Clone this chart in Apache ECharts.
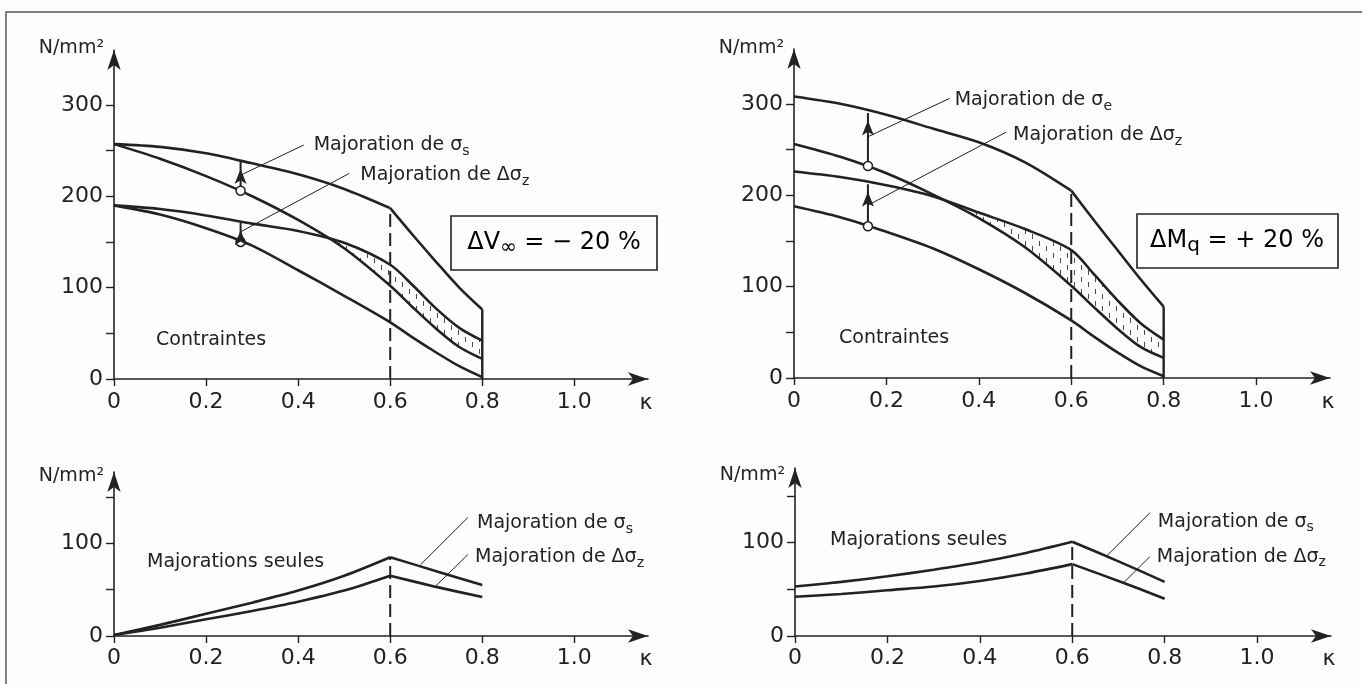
<!DOCTYPE html>
<html><head><meta charset="utf-8">
<script src="https://cdn.jsdelivr.net/npm/echarts@6/dist/echarts.min.js"></script>
<style>html,body{margin:0;padding:0;background:#fdfdfb}#c{width:1362px;height:684px}</style>
</head><body><div id="c"></div>
<script>
// ---------------- data ----------------
const xTicks = [0, 0.2, 0.4, 0.6, 0.8, 1.0];
const xTickLabels = ['0', '0.2', '0.4', '0.6', '0.8', '1.0'];
const yTicksTop = [0, 50, 100, 150, 200, 250, 300];
const yLabelsTop = [0, 100, 200, 300];
const yTicksBottom = [0, 50, 100, 150];
const yLabelsBottom = [0, 100];

const kappa = [0, 0.1, 0.2, 0.3, 0.4, 0.5, 0.6, 0.65, 0.7, 0.75, 0.8];
const kappaToPeak = [0, 0.1, 0.2, 0.3, 0.4, 0.5, 0.6];
const kappaAfterPeak = [0.6, 0.65, 0.7, 0.75, 0.8];
const kappaAfterPeakBottom = [0.6, 0.7, 0.8];
const kappaSection = 0.6;
const kappaEnd = 0.8;

// Top-left: ΔV∞ = −20 %
const vSigmaSMajToPeak = [257, 254, 247, 236, 224, 208, 187];
const vSigmaSMajAfterPeak = [187, 157, 128, 100, 76];
const vSigmaS = [257, 241, 222, 200, 174, 143, 102, 78, 55, 35, 22];
const vDSigmaZMaj = [190, 186, 179, 170, 162, 149, 125, 102, 77, 56, 42];
const vDSigmaZ = [190, 180, 165, 146, 119, 91, 62, 45, 29, 14, 2];
const vArrowKappa = 0.275;
const vArrowFrom = [206, 150];
const vArrowTo = [238, 171];

// Top-right: ΔMq = +20 %
const mSigmaEMajToPeak = [308, 300, 288, 273, 258, 236, 205];
const mSigmaEMajAfterPeak = [205, 172, 140, 108, 78];
const mSigmaE = [256, 242, 224, 201, 175, 143, 101, 77, 54, 34, 22];
const mDSigmaZMaj = [226, 220, 211, 199, 181, 163, 140, 113, 85, 60, 42];
const mDSigmaZ = [188, 176, 160, 142, 119, 93, 63, 45, 28, 13, 2];
const mArrowKappa = 0.16;
const mArrowFrom = [232, 166];
const mArrowTo = [290, 212];

// Bottom-left: majorations seules (ΔV∞)
const vMajSigmaSToPeak = [1, 12, 24, 36, 49, 65, 85];
const vMajSigmaSAfterPeak = [85, 70, 55];
const vMajDSigmaZToPeak = [1, 9, 18, 27, 37, 49, 65];
const vMajDSigmaZAfterPeak = [65, 53, 42];

// Bottom-right: majorations seules (ΔMq)
const mMajSigmaSToPeak = [53, 58, 64, 71, 79, 89, 101];
const mMajSigmaSAfterPeak = [101, 80, 58];
const mMajDSigmaZToPeak = [42, 45, 49, 53, 59, 67, 77];
const mMajDSigmaZAfterPeak = [77, 59, 40];

// annotation anchors (data coordinates)
const vLeaderSigmaS = [[0.275, 223], [0.412, 256]];
const vLeaderDSigmaZ = [[0.275, 161], [0.511, 225]];
const mLeaderSigmaE = [[0.16, 264], [0.337, 306]];
const mLeaderDSigmaZ = [[0.16, 189], [0.459, 269]];
const vLeaderMajSigmaS = [[0.666, 77], [0.769, 128]];
const vLeaderMajDSigmaZ = [[0.699, 54], [0.769, 88]];
const mLeaderMajSigmaS = [[0.673, 85], [0.768, 132]];
const mLeaderMajDSigmaZ = [[0.711, 57], [0.768, 85]];

// ---------------- styling / helpers ----------------
const FONT = 'DejaVu Sans';
const INK = '#222222';
const X_MAX = 1.16;

const pat = document.createElement('canvas');
pat.width = 14; pat.height = 12;
(function(){
  const g = pat.getContext('2d');
  g.strokeStyle = 'rgba(45,45,45,0.85)'; g.lineWidth = 1;
  g.beginPath(); g.moveTo(3.5, 1); g.lineTo(3.5, 6);
  g.moveTo(10.5, 6); g.lineTo(10.5, 11); g.stroke();
})();

function pairs(xs, ys) { return xs.map((x, i) => [x, ys[i]]); }
function labelFor(v) {
  for (let i = 0; i < xTicks.length; i++) if (Math.abs(xTicks[i] - v) < 1e-6) return xTickLabels[i];
  return '';
}
function makeX(grid, margin) {
  return {
    type: 'value', gridIndex: grid, min: 0, max: X_MAX,
    name: 'κ', nameLocation: 'end', nameGap: -2,
    nameTextStyle: {fontFamily: FONT, fontSize: 22, color: INK, align: 'center', verticalAlign: 'top', padding: [margin + 1, 0, 0, 0]},
    axisLine: {show: true, onZero: false, lineStyle: {color: INK, width: 1.6}, symbol: ['none', 'arrow'], symbolSize: [10, 20]},
    axisTick: {show: true, length: 7, customValues: xTicks, lineStyle: {color: INK, width: 1.4}},
    axisLabel: {show: true, customValues: xTicks, margin: margin, fontFamily: FONT, fontSize: 22, color: INK, formatter: v => labelFor(v)},
    splitLine: {show: false}
  };
}
function makeY(grid, max, ticks, labels, nameGap) {
  return {
    type: 'value', gridIndex: grid, min: 0, max: max,
    name: 'N/mm²', nameLocation: 'end', nameGap: nameGap,
    nameTextStyle: {fontFamily: FONT, fontSize: 19, color: INK, align: 'right', verticalAlign: 'middle', padding: [0, 10, 0, 0]},
    axisLine: {show: true, onZero: false, lineStyle: {color: INK, width: 1.6}, symbol: ['none', 'arrow'], symbolSize: [10, 20]},
    axisTick: {show: true, length: 8, customValues: ticks, lineStyle: {color: INK, width: 1.4}},
    axisLabel: {show: true, customValues: labels, margin: 11, fontFamily: FONT, fontSize: 22, color: INK},
    splitLine: {show: false}
  };
}
function curve(grid, xs, ys) {
  return {type: 'line', xAxisIndex: grid, yAxisIndex: grid, data: pairs(xs, ys), smooth: 0.3,
    symbol: 'none', silent: true, z: 3, lineStyle: {color: INK, width: 2.6}};
}
function straight(grid, pts, dashed, width) {
  return {type: 'line', xAxisIndex: grid, yAxisIndex: grid, data: pts, symbol: 'none', silent: true, z: 3,
    lineStyle: {color: INK, width: width || 2.4, type: dashed ? [13, 6] : 'solid'}};
}
function arrow(grid, x, from, to) {
  return {type: 'line', xAxisIndex: grid, yAxisIndex: grid, z: 5, silent: true, symbol: 'circle', showSymbol: true,
    lineStyle: {color: INK, width: 2},
    data: [
      {value: [x, from], symbol: 'circle', symbolSize: 9, itemStyle: {color: '#fff', borderColor: INK, borderWidth: 1.5}},
      {value: [x, to], symbol: 'arrow', symbolSize: [9, 15], symbolOffset: [0, '50%'], itemStyle: {color: INK}}
    ]};
}
const rich = {
  t: {fontFamily: FONT, fontSize: 19, color: INK, lineHeight: 26},
  s: {fontFamily: FONT, fontSize: 14, color: INK, lineHeight: 12, verticalAlign: 'bottom'}
};
function leader(grid, pts, main, sub, dist, dy) {
  return {type: 'line', xAxisIndex: grid, yAxisIndex: grid, z: 4, silent: true, symbol: 'none',
    lineStyle: {color: INK, width: 1}, data: pts,
    endLabel: {show: true, distance: dist, offset: [0, dy], formatter: () => '{t|' + main + '}{s|' + sub + '}', rich: rich}};
}
function bandPolygon(xs, up, lo) {
  const top = [], bot = [];
  let started = false;
  for (let i = 0; i < xs.length; i++) {
    const d = up[i] - lo[i];
    if (!started && i > 0) {
      const dp = up[i - 1] - lo[i - 1];
      if (dp < 0 && d >= 0) {
        const t = dp / (dp - d);
        const xc = xs[i - 1] + t * (xs[i] - xs[i - 1]);
        const yc = lo[i - 1] + t * (lo[i] - lo[i - 1]);
        top.push([xc, yc]); bot.push([xc, yc]); started = true;
      }
    }
    if (started) { top.push([xs[i], up[i]]); bot.push([xs[i], lo[i]]); }
  }
  return top.concat(bot.reverse());
}
function hatch(grid, xs, up, lo) {
  const poly = bandPolygon(xs, up, lo);
  return {type: 'custom', xAxisIndex: grid, yAxisIndex: grid, z: 1, silent: true, data: [poly[0]],
    renderItem: (p, api) => ({type: 'polygon', shape: {points: poly.map(pt => api.coord(pt))},
      style: {fill: {image: pat, repeat: 'repeat'}, stroke: null}})};
}
function sub2(a, b, c) { return '{a|' + a + '}{b|' + b + '}{a|' + c + '}'; }
const boxRich = {
  a: {fontFamily: FONT, fontSize: 24, color: INK, lineHeight: 30},
  b: {fontFamily: FONT, fontSize: 20, color: INK, lineHeight: 18, verticalAlign: 'bottom'}
};
function txt(x, y, s, size) {
  return {type: 'text', x: x, y: y, silent: true,
    style: {text: s, fontFamily: FONT, fontSize: size || 19, fill: INK, align: 'left', verticalAlign: 'middle'}};
}

// ---------------- chart ----------------
const chart = echarts.init(document.getElementById('c'), null, {renderer: 'canvas'});
const option = {
  backgroundColor: '#fdfdfb',
  animation: false,
  grid: [
    {left: 114, top: 50, width: 534, height: 329},
    {left: 794, top: 49, width: 536, height: 329},
    {left: 114, top: 472, width: 534, height: 164},
    {left: 795, top: 468, width: 536, height: 168}
  ],
  xAxis: [makeX(0, 12), makeX(1, 12), makeX(2, 11), makeX(3, 11)],
  yAxis: [
    makeY(0, 360, yTicksTop, yLabelsTop, 2),
    makeY(1, 360, yTicksTop, yLabelsTop, 1),
    makeY(2, 177, yTicksBottom, yLabelsBottom, -4),
    makeY(3, 180, yTicksBottom, yLabelsBottom, -7)
  ],
  series: [
    // top-left
    hatch(0, kappa, vDSigmaZMaj, vSigmaS),
    curve(0, kappaToPeak, vSigmaSMajToPeak),
    curve(0, kappaAfterPeak, vSigmaSMajAfterPeak),
    curve(0, kappa, vSigmaS),
    curve(0, kappa, vDSigmaZMaj),
    curve(0, kappa, vDSigmaZ),
    straight(0, [[kappaEnd, 0], [kappaEnd, vSigmaSMajAfterPeak[vSigmaSMajAfterPeak.length - 1]]], false),
    straight(0, [[kappaSection, 0], [kappaSection, vSigmaSMajToPeak[vSigmaSMajToPeak.length - 1]]], true, 2),
    arrow(0, vArrowKappa, vArrowFrom[0], vArrowTo[0]),
    arrow(0, vArrowKappa, vArrowFrom[1], vArrowTo[1]),
    leader(0, vLeaderSigmaS, 'Majoration de σ', 's', 10, 0),
    leader(0, vLeaderDSigmaZ, 'Majoration de Δσ', 'z', 11, 2),
    // top-right
    hatch(1, kappa, mDSigmaZMaj, mSigmaE),
    curve(1, kappaToPeak, mSigmaEMajToPeak),
    curve(1, kappaAfterPeak, mSigmaEMajAfterPeak),
    curve(1, kappa, mSigmaE),
    curve(1, kappa, mDSigmaZMaj),
    curve(1, kappa, mDSigmaZ),
    straight(1, [[kappaEnd, 0], [kappaEnd, mSigmaEMajAfterPeak[mSigmaEMajAfterPeak.length - 1]]], false),
    straight(1, [[kappaSection, 0], [kappaSection, mSigmaEMajToPeak[mSigmaEMajToPeak.length - 1]]], true, 2),
    arrow(1, mArrowKappa, mArrowFrom[0], mArrowTo[0]),
    arrow(1, mArrowKappa, mArrowFrom[1], mArrowTo[1]),
    leader(1, mLeaderSigmaE, 'Majoration de σ', 'e', 5, 2),
    leader(1, mLeaderDSigmaZ, 'Majoration de Δσ', 'z', 7, 3),
    // bottom-left
    curve(2, kappaToPeak, vMajSigmaSToPeak),
    curve(2, kappaAfterPeakBottom, vMajSigmaSAfterPeak),
    curve(2, kappaToPeak, vMajDSigmaZToPeak),
    curve(2, kappaAfterPeakBottom, vMajDSigmaZAfterPeak),
    straight(2, [[kappaSection, 0], [kappaSection, vMajSigmaSToPeak[vMajSigmaSToPeak.length - 1]]], true, 2),
    leader(2, vLeaderMajSigmaS, 'Majoration de σ', 's', 9, 6),
    leader(2, vLeaderMajDSigmaZ, 'Majoration de Δσ', 'z', 7, 3),
    // bottom-right
    curve(3, kappaToPeak, mMajSigmaSToPeak),
    curve(3, kappaAfterPeakBottom, mMajSigmaSAfterPeak),
    curve(3, kappaToPeak, mMajDSigmaZToPeak),
    curve(3, kappaAfterPeakBottom, mMajDSigmaZAfterPeak),
    straight(3, [[kappaSection, 0], [kappaSection, mMajSigmaSToPeak[mMajSigmaSToPeak.length - 1]]], true, 2),
    leader(3, mLeaderMajSigmaS, 'Majoration de σ', 's', 8, 9),
    leader(3, mLeaderMajDSigmaZ, 'Majoration de Δσ', 'z', 7, 0)
  ],
  graphic: [
    {type: 'polyline', silent: true, shape: {points: [[6, 684], [6, 12], [1362, 12]]}, style: {stroke: '#555', lineWidth: 1.5, fill: null}},
    txt(156, 340, 'Contraintes', 19),
    txt(839, 338, 'Contraintes', 19),
    txt(147, 562, 'Majorations seules', 19),
    txt(830, 540, 'Majorations seules', 19),
    {type: 'rect', silent: true, shape: {x: 451, y: 216, width: 206, height: 54}, style: {fill: '#fdfdfb', stroke: INK, lineWidth: 1.6}},
    {type: 'text', silent: true, x: 554, y: 243, style: {text: sub2('ΔV', '∞', ' = − 20 %'), rich: boxRich, align: 'center', verticalAlign: 'middle'}},
    {type: 'rect', silent: true, shape: {x: 1137, y: 214, width: 201, height: 54}, style: {fill: '#fdfdfb', stroke: INK, lineWidth: 1.6}},
    {type: 'text', silent: true, x: 1237, y: 241, style: {text: sub2('ΔM', 'q', ' = + 20 %'), rich: boxRich, align: 'center', verticalAlign: 'middle'}}
  ]
};
chart.setOption(option);
</script></body></html>
